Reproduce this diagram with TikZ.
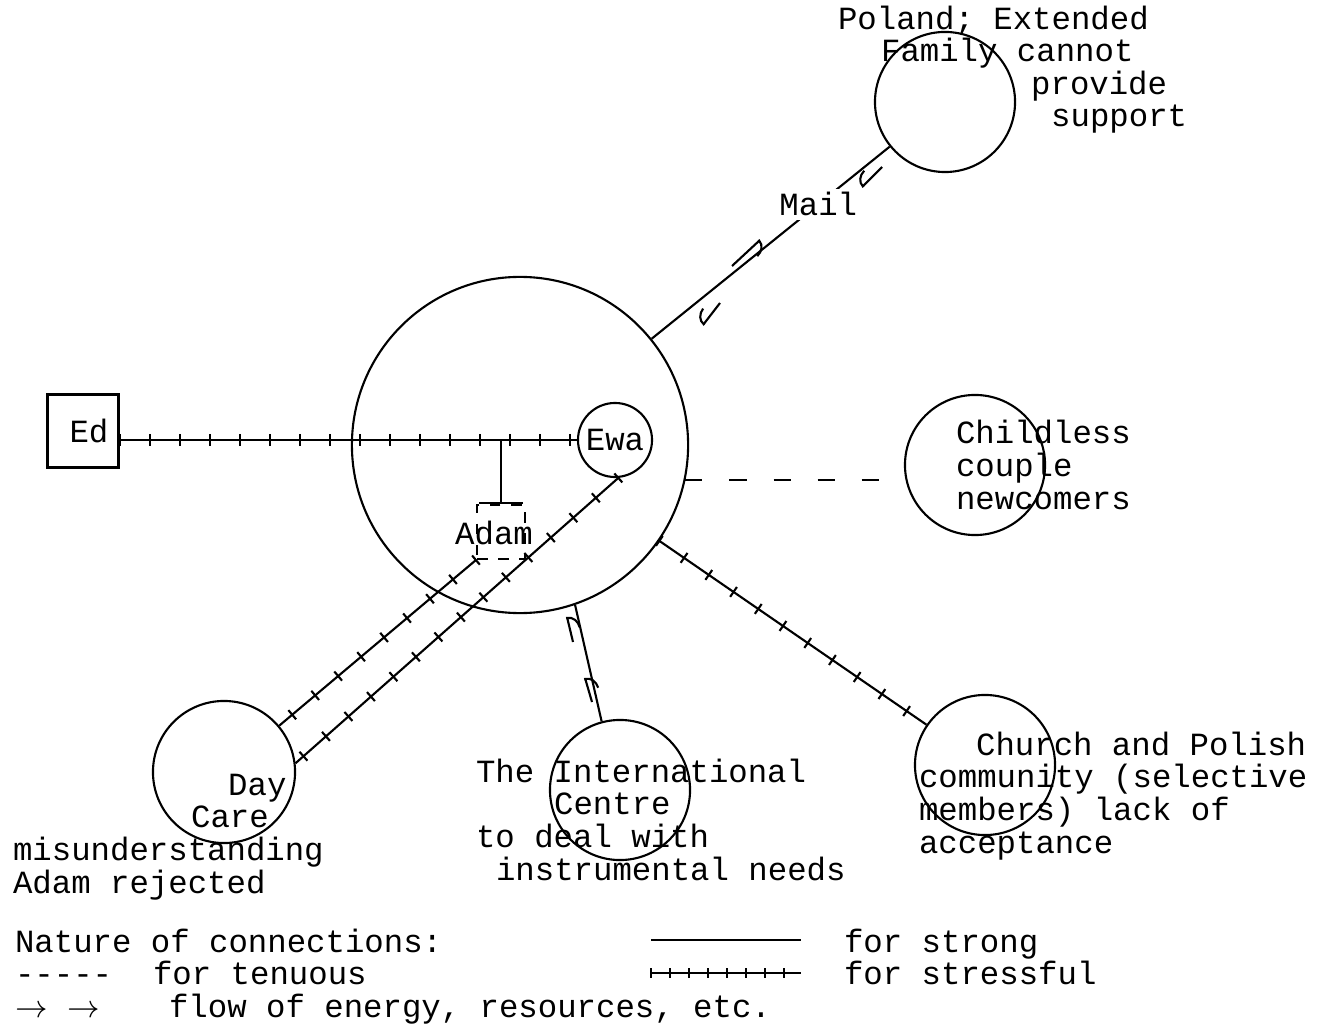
\documentclass[tikz,border=0pt]{standalone}
\usepackage{fontspec}
\setmainfont{Liberation Mono}
\usetikzlibrary{arrows.meta,decorations.pathreplacing}

\begin{document}
\begin{tikzpicture}[x=0.01cm, y=-0.01cm, line width=0.6pt,
    every node/.append style={font=\fontsize{9.2}{9.25}\selectfont},
    unit/.style={draw, circle, inner sep=0pt},
    txt/.style={anchor=base west, inner sep=0pt, align=left},
    strong/.style={draw},
    stressful/.style={draw, postaction={draw, decorate,
        decoration={ticks, segment length=0.3cm, amplitude=0.06cm}}},
    tenuous/.style={draw, dash pattern=on 0.17cm off 0.27cm},
    flow/.style={-{Arc Barb[harpoon, swap, length=1.3mm, width=2.2mm]}}]
  \useasboundingbox (0,0) rectangle (1319,1025);

  % household
  \node[unit, minimum size=3.36cm] (main) at (520,445) {};
  \node[unit, minimum size=0.74cm] (ewa) at (615,440) {Ewa};
  \node[draw, minimum width=0.71cm, minimum height=0.73cm, inner sep=0pt] (ed) at (83,431) {\raisebox{-0.08cm}{\hspace*{0.12cm}Ed}};
  \node[draw, dashed, minimum width=0.48cm, minimum height=0.54cm, inner sep=0pt] (adambox) at (501,532) {};
  \node[inner sep=0pt] (adam) at (494,533) {Adam};

  % outside systems
  \node[unit, minimum size=1.4cm] (poland) at (945,102) {};
  \node[unit, minimum size=1.4cm] (childless) at (975,465) {};
  \node[unit, minimum size=1.4cm] (church) at (985,765) {};
  \node[unit, minimum size=1.4cm] (intl) at (620,790) {};
  \node[unit, minimum size=1.42cm] (daycare) at (224,772) {};

  % (base anchor sits on the last line)
  \node[txt] (polandtxt) at (837,127) {Poland; Extended\\\hspace*{0.43cm}Family cannot\\\hspace*{1.93cm}provide\\\hspace*{2.13cm}support};
  \node[txt] (childlesstxt) at (955,509) {Childless\\couple\\newcomers};
  \node[txt] (churchtxt) at (918,853) {\hspace*{0.57cm}Church and Polish\\community (selective\\members) lack of\\acceptance};
  \node[txt] (intltxt) at (475,880) {The International\\\hspace*{0.78cm}Centre\\to deal with\\\hspace*{0.2cm}instrumental needs};
  \node[txt] (daycaretxt) at (12,893) {\hspace*{2.15cm}Day\\\hspace*{1.78cm}Care\\misunderstanding\\Adam rejected};

  % connections
  \draw[stressful] (ed.east |- ewa.west) -- (ewa.west);
  \coordinate (jn) at (adambox.north |- ewa.west);
  \draw[strong, -{Bar[width=0.44cm]}] (jn) -- (adambox.north);
  \draw[strong] (main) -- node[pos=0.7, fill=white, inner sep=1pt] (mail) {Mail} (poland);
  \draw[tenuous] (main.-12) -- (main.-12 -| childless.west);
  \draw[stressful] (main) -- (church);
  \draw[strong] (main.-71) -- (intl.105);
  \draw[stressful] (adambox.south west) -- (daycare.40);
  \draw[stressful] (ewa.-85) -- (daycare.7);

  % flows
  \draw[flow] (732,266) -- (760,240);
  \draw[flow] (720,303) -- (703,325);
  \draw[flow] (882,167) -- (862,187);
  \draw[flow] (573,642) -- (567,617);
  \draw[flow] (592,702) -- (585,678);

  % legend
  \node[txt] (legtitle) at (14,952) {Nature of connections:};
  \node[txt] (legdash) at (14,984) {-{}-{}-{}-{}-};
  \node[txt] (legtenuous) at (152,984) {for tenuous};
  \node[txt] (legarrows) at (14,1017) {$\rightarrow$\hspace*{0.2cm}$\rightarrow$};
  \node[txt] (legflow) at (168,1017) {flow of energy, resources, etc.};
  \coordinate (strongA) at (651,940);
  \coordinate (strongB) at (801,940);
  \draw[strong] (strongA) -- (strongB);
  \node[txt] (legstrong) at (843,952) {for strong};
  \coordinate (stressA) at (651,973);
  \coordinate (stressB) at (801,973);
  \draw[draw, postaction={draw, decorate, decoration={ticks, segment length=0.19cm, amplitude=0.05cm}}] (stressA) -- (stressB);
  \node[txt] (legstressful) at (843,984) {for stressful};
\end{tikzpicture}
\end{document}
